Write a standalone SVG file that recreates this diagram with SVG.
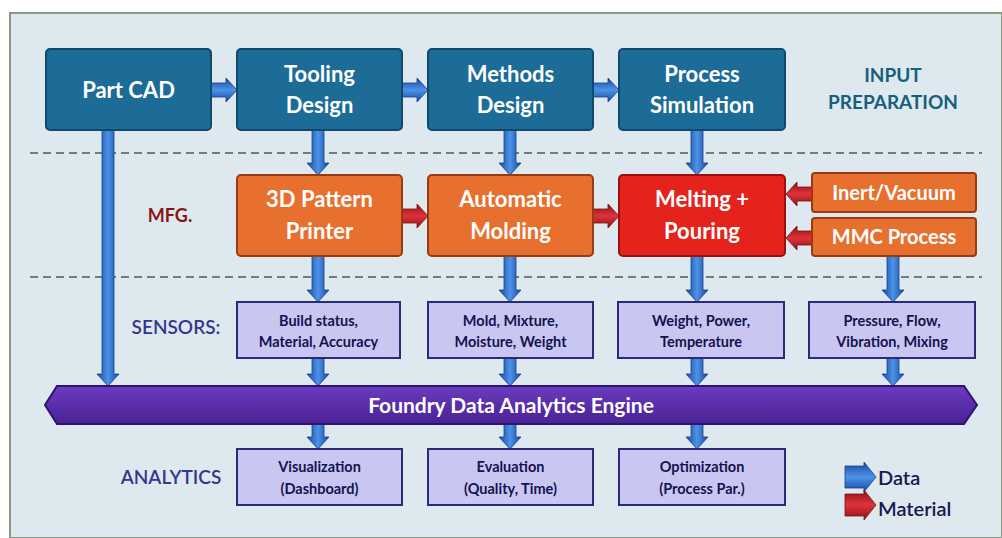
<svg xmlns="http://www.w3.org/2000/svg" width="1002" height="538" viewBox="0 0 1002 538">
<defs>
<style>
.top rect{fill:#1d6c98;stroke:#0e4a6e;stroke-width:2}
.org rect{fill:#e8702e;stroke:#9a3a12;stroke-width:2}
.red rect{fill:#e5231d;stroke:#9a1010;stroke-width:2}
.sen rect{fill:#c9c7f1;stroke:#2c2a78;stroke-width:2}
.wt{font-family:Lato,"Open Sans",sans-serif;font-weight:bold;fill:#fff;font-size:22px;text-anchor:middle}
.st{font-family:Lato,"Open Sans",sans-serif;font-weight:bold;fill:#141250;font-size:14.5px;text-anchor:middle}
.lab{font-family:Lato,"Open Sans",sans-serif;font-size:19px;fill:#34368f;text-anchor:middle;font-weight:600}
.dash{stroke:#555;stroke-width:1.5;stroke-dasharray:8 5;fill:none}
.bv{fill:url(#gbv);stroke:#1a3f8a;stroke-width:0.8}
.bh{fill:url(#gbh);stroke:#1a3f8a;stroke-width:0.8}
.rh{fill:url(#grh);stroke:#7a1010;stroke-width:0.8}
</style>
<linearGradient id="gbv" x1="0" y1="0" x2="1" y2="0">
<stop offset="0" stop-color="#1b47a6"/><stop offset="0.5" stop-color="#4b93e6"/><stop offset="1" stop-color="#1b47a6"/>
</linearGradient>
<linearGradient id="gbh" x1="0" y1="0" x2="0" y2="1">
<stop offset="0" stop-color="#1b47a6"/><stop offset="0.5" stop-color="#4b93e6"/><stop offset="1" stop-color="#1b47a6"/>
</linearGradient>
<linearGradient id="grh" x1="0" y1="0" x2="0" y2="1">
<stop offset="0" stop-color="#8e1218"/><stop offset="0.5" stop-color="#e0323a"/><stop offset="1" stop-color="#8e1218"/>
</linearGradient>
<linearGradient id="geng" x1="0" y1="0" x2="0" y2="1">
<stop offset="0" stop-color="#6a3cc0"/><stop offset="0.5" stop-color="#5a2eaa"/><stop offset="1" stop-color="#4a2294"/>
</linearGradient>
</defs>
<rect x="0" y="0" width="1002" height="538" fill="#ffffff"/>
<rect x="10" y="13" width="992" height="525" fill="#dde9ee" stroke="#8a9a80" stroke-width="2"/>

<line class="dash" x1="30" y1="153" x2="982" y2="153"/>
<line class="dash" x1="30" y1="277" x2="982" y2="277"/>

<g id="labels">
<text class="lab" x="893" y="82" style="font-weight:bold;fill:#175f7c;font-size:19px">INPUT</text>
<text class="lab" x="893" y="109" style="font-weight:bold;fill:#175f7c;font-size:19px">PREPARATION</text>
<text class="lab" x="170" y="222" style="font-weight:bold;fill:#8a1414;font-size:18px">MFG.</text>
<text class="lab" x="176" y="334">SENSORS:</text>
<text class="lab" x="171" y="484">ANALYTICS</text>
</g>

<g id="connectors">
<polygon class="bh" points="211,83 226,83 226,78 237,90 226,102 226,97 211,97"/>
<polygon class="bh" points="402,83 417,83 417,78 428,90 417,102 417,97 402,97"/>
<polygon class="bh" points="593,83 608,83 608,78 619,90 608,102 608,97 593,97"/>
<polygon class="bv" points="312,130 324,130 324,163 329,163 318,175 307,163 312,163"/>
<polygon class="bv" points="504,130 516,130 516,163 521,163 510,175 499,163 504,163"/>
<polygon class="bv" points="691,130 703,130 703,163 708,163 697,175 686,163 691,163"/>
<polygon class="bv" points="102,130 114,130 114,374 119,374 108,386 97,374 102,374"/>
<polygon class="rh" points="402,209 417,209 417,204 428,216 417,228 417,223 402,223"/>
<polygon class="rh" points="593,209 608,209 608,204 619,216 608,228 608,223 593,223"/>
<polygon class="rh" points="812,187 797,187 797,182 786,194 797,206 797,201 812,201"/>
<polygon class="rh" points="812,231 797,231 797,226 786,238 797,250 797,245 812,245"/>
<polygon class="bv" points="312,256 324,256 324,290 329,290 318,302 307,290 312,290"/>
<polygon class="bv" points="504,256 516,256 516,290 521,290 510,302 499,290 504,290"/>
<polygon class="bv" points="691,256 703,256 703,290 708,290 697,302 686,290 691,290"/>
<polygon class="bv" points="887,256 899,256 899,290 904,290 893,302 882,290 887,290"/>
<polygon class="bv" points="312,358 324,358 324,374 329,374 318,386 307,374 312,374"/>
<polygon class="bv" points="504,358 516,358 516,374 521,374 510,386 499,374 504,374"/>
<polygon class="bv" points="691,358 703,358 703,374 708,374 697,386 686,374 691,374"/>
<polygon class="bv" points="887,358 899,358 899,374 904,374 893,386 882,374 887,374"/>
<polygon class="bv" points="312,424 324,424 324,437 329,437 318,449 307,437 312,437"/>
<polygon class="bv" points="504,424 516,424 516,437 521,437 510,449 499,437 504,437"/>
<polygon class="bv" points="691,424 703,424 703,437 708,437 697,449 686,437 691,437"/>
</g>

<g id="part-cad" class="top"><rect x="46" y="49" width="165" height="81" rx="4"/><text class="wt" x="128.5" y="98">Part CAD</text></g>
<g id="tooling-design" class="top"><rect x="237" y="49" width="165" height="81" rx="4"/><text class="wt" x="319.5" y="82">Tooling</text><text class="wt" x="319.5" y="113">Design</text></g>
<g id="methods-design" class="top"><rect x="428" y="49" width="165" height="81" rx="4"/><text class="wt" x="510.5" y="82">Methods</text><text class="wt" x="510.5" y="113">Design</text></g>
<g id="process-simulation" class="top"><rect x="619" y="49" width="166" height="81" rx="4"/><text class="wt" x="702" y="82">Process</text><text class="wt" x="702" y="113">Simulation</text></g>

<g id="pattern-printer" class="org"><rect x="237" y="175" width="165" height="81" rx="4"/><text class="wt" x="319.5" y="207">3D Pattern</text><text class="wt" x="319.5" y="239">Printer</text></g>
<g id="automatic-molding" class="org"><rect x="428" y="175" width="165" height="81" rx="4"/><text class="wt" x="510.5" y="207">Automatic</text><text class="wt" x="510.5" y="239">Molding</text></g>
<g id="melting-pouring" class="red"><rect x="619" y="175" width="166" height="81" rx="4"/><text class="wt" x="702" y="207">Melting +</text><text class="wt" x="702" y="239">Pouring</text></g>
<g id="inert-vacuum" class="org"><rect x="812" y="173" width="164" height="39" rx="3"/><text class="wt" x="894" y="200" style="font-size:20px">Inert/Vacuum</text></g>
<g id="mmc-process" class="org"><rect x="812" y="218" width="164" height="38" rx="3"/><text class="wt" x="894" y="244" style="font-size:20px">MMC Process</text></g>

<g id="sensor-1" class="sen"><rect x="237" y="302" width="163" height="56"/><text class="st" x="318.5" y="326">Build status,</text><text class="st" x="318.5" y="347">Material, Accuracy</text></g>
<g id="sensor-2" class="sen"><rect x="428" y="302" width="165" height="56"/><text class="st" x="510.5" y="326">Mold, Mixture,</text><text class="st" x="510.5" y="347">Moisture, Weight</text></g>
<g id="sensor-3" class="sen"><rect x="618" y="302" width="166" height="56"/><text class="st" x="701" y="326">Weight, Power,</text><text class="st" x="701" y="347">Temperature</text></g>
<g id="sensor-4" class="sen"><rect x="809" y="302" width="166" height="56"/><text class="st" x="892" y="326">Pressure, Flow,</text><text class="st" x="892" y="347">Vibration, Mixing</text></g>

<g id="engine"><polygon points="57,386 964,386 977,405 964,424 57,424 45,405" fill="url(#geng)" stroke="#2e1470" stroke-width="2"/><text class="wt" x="511" y="413" style="font-size:21px">Foundry Data Analytics Engine</text></g>

<g id="visualization" class="sen"><rect x="237" y="449" width="165" height="56"/><text class="st" x="319.5" y="472">Visualization</text><text class="st" x="319.5" y="494">(Dashboard)</text></g>
<g id="evaluation" class="sen"><rect x="428" y="449" width="165" height="56"/><text class="st" x="510.5" y="472">Evaluation</text><text class="st" x="510.5" y="494">(Quality, Time)</text></g>
<g id="optimization" class="sen"><rect x="619" y="449" width="166" height="56"/><text class="st" x="702" y="472">Optimization</text><text class="st" x="702" y="494">(Process Par.)</text></g>

<g id="legend">
<polygon points="845,466 864,466 864,462 876,477 864,492 864,488 845,488" fill="url(#gbh)" stroke="#1a3f8a" stroke-width="0.8"/>
<text x="878" y="485" style="font-family:Lato,'Open Sans',sans-serif;font-size:20px;fill:#1a184f;font-weight:600">Data</text>
<polygon points="845,494 864,494 864,490 876,505 864,520 864,516 845,516" fill="url(#grh)" stroke="#7a1010" stroke-width="0.8"/>
<text x="878" y="516" style="font-family:Lato,'Open Sans',sans-serif;font-size:20px;fill:#1a184f;font-weight:600">Material</text>
</g>
</svg>
